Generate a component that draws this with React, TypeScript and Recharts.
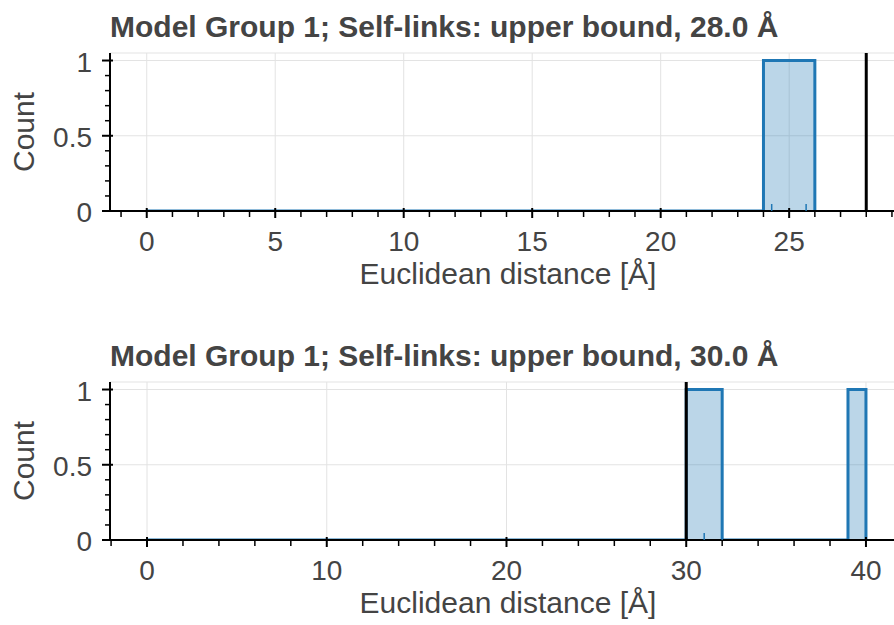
import React from 'react';
import { ComposedChart, Area, Scatter, XAxis, YAxis, CartesianGrid, ReferenceLine, Label } from 'recharts';

const FONT = '"Liberation Sans", Arial, Helvetica, sans-serif';
const TEXT = '#444444';
const BLUE = '#1f77b4';

// panel 1: upper bound 28.0 Å
const topTitle = 'Model Group 1; Self-links: upper bound, 28.0 Å';
const topBinStart = [0, 24];
const topBinEnd = [24, 26];
const topCounts = [0, 1];
const topRug = [24.32, 25.66];
const topBound = 28;
const topXDomain = [-1.43, 29.08];
const topXMajor = [0, 5, 10, 15, 20, 25];
const topXTicks = [-1, 0, 1, 2, 3, 4, 5, 6, 7, 8, 9, 10, 11, 12, 13, 14, 15, 16, 17, 18, 19, 20, 21, 22, 23, 24, 25, 26, 27, 28, 29];

// panel 2: upper bound 30.0 Å
const bottomTitle = 'Model Group 1; Self-links: upper bound, 30.0 Å';
const bottomBinStart = [0, 30, 32, 39];
const bottomBinEnd = [30, 32, 39, 40];
const bottomCounts = [0, 1, 0, 1];
const bottomRug = [31.0, 32.0, 40.0];
const bottomBound = 30;
const bottomXDomain = [-2.06, 41.56];
const bottomXMajor = [0, 10, 20, 30, 40];
const bottomXTicks = [-2, 0, 2, 4, 6, 8, 10, 12, 14, 16, 18, 20, 22, 24, 26, 28, 30, 32, 34, 36, 38, 40];

// shared y axis
const yDomain = [0, 1.05];
const yMajor = [0, 0.5, 1];
const yTicks = [0, 0.1, 0.2, 0.3, 0.4, 0.5, 0.6, 0.7, 0.8, 0.9, 1];
const xLabel = 'Euclidean distance [Å]';
const yLabel = 'Count';

const stepPoints = (starts: number[], ends: number[], counts: number[]) => {
  const pts: { x: number; y: number }[] = [];
  starts.forEach((s, i) => {
    pts.push({ x: s, y: counts[i] });
    pts.push({ x: ends[i], y: counts[i] });
  });
  pts.push({ x: ends[ends.length - 1], y: 0 });
  return pts;
};

const XTick = (props: any) => {
  const { x, y, payload, majors } = props;
  const v = payload.value;
  const major = majors.includes(v);
  return (
    <g>
      <line x1={x} x2={x} y1={major ? y - 3 : y} y2={y + (major ? 7 : 6)} stroke="#000" strokeWidth={major ? 2 : 1.5} />
      {major && (
        <text x={x} y={y + 40} textAnchor="middle" fill={TEXT} fontSize={28} fontFamily={FONT}>
          {v}
        </text>
      )}
    </g>
  );
};

const YTick = (props: any) => {
  const { x, y, payload } = props;
  const v = payload.value;
  const major = yMajor.includes(v);
  return (
    <g>
      <line x1={x - (major ? 8 : 5)} x2={major ? x + 3 : x} y1={y} y2={y} stroke="#000" strokeWidth={major ? 2 : 1.5} />
      {major && (
        <text x={x - 18} y={y + 11} textAnchor="end" fill={TEXT} fontSize={28} fontFamily={FONT}>
          {String(v)}
        </text>
      )}
    </g>
  );
};

interface PanelProps {
  title: string;
  starts: number[];
  ends: number[];
  counts: number[];
  rug: number[];
  bound: number;
  xDomain: number[];
  xMajor: number[];
  xTicks: number[];
  height: number;
  top: number;
}

const Panel: React.FC<PanelProps> = ({ title, starts, ends, counts, rug, bound, xDomain, xMajor, xTicks, height, top }) => {
  const hist = stepPoints(starts, ends, counts);
  const rugData = rug.map((r) => ({ x: r, y: 0 }));
  const plotH = 158;
  const marginTop = 53;
  return (
    <div style={{ position: 'absolute', left: 0, top, width: 894, height }}>
      <div
        style={{
          position: 'absolute',
          left: 110,
          top: 12,
          fontFamily: FONT,
          fontWeight: 'bold',
          fontSize: 30,
          lineHeight: '30px',
          color: TEXT,
          whiteSpace: 'nowrap',
        }}
      >
        {title}
      </div>
      <ComposedChart width={894} height={height} margin={{ top: marginTop, right: 0, bottom: 0, left: 0 }}>
        <CartesianGrid
          stroke="#e3e3e3"
          strokeWidth={1}
          horizontalValues={yMajor}
          verticalValues={xMajor}
          syncWithTicks={false}
        />
        <XAxis
          type="number"
          dataKey="x"
          domain={xDomain}
          allowDataOverflow
          ticks={xTicks}
          interval={0}
          tickSize={0}
          tickMargin={0}
          tickLine={false}
          axisLine={{ stroke: '#000', strokeWidth: 2 }}
          tick={(p: any) => <XTick {...p} majors={xMajor} />}
          height={height - marginTop - plotH}
        >
          <Label
            content={(p: any) => {
              const vb = p.viewBox;
              return (
                <text x={vb.x + vb.width / 2 + 6} y={vb.y + 73} textAnchor="middle" fill={TEXT} fontSize={30} fontFamily={FONT}>
                  {xLabel}
                </text>
              );
            }}
          />
        </XAxis>
        <YAxis
          type="number"
          domain={yDomain}
          allowDataOverflow
          ticks={yTicks}
          interval={0}
          tickSize={0}
          tickMargin={0}
          tickLine={false}
          width={110}
          axisLine={{ stroke: '#000', strokeWidth: 2 }}
          tick={(p: any) => <YTick {...p} />}
        >
          <Label
            content={(p: any) => {
              const vb = p.viewBox;
              const cy = vb.y + vb.height / 2;
              return (
                <text x={34} y={cy} transform={`rotate(-90, 34, ${cy})`} textAnchor="middle" fill={TEXT} fontSize={30} fontFamily={FONT}>
                  {yLabel}
                </text>
              );
            }}
          />
        </YAxis>
        <ReferenceLine y={yDomain[1]} stroke="#e3e3e3" strokeWidth={1} />
        <Area
          data={hist}
          dataKey="y"
          type="linear"
          stroke={BLUE}
          strokeWidth={3}
          fill={BLUE}
          fillOpacity={0.3}
          isAnimationActive={false}
          dot={false}
          activeDot={false}
        />
        <Scatter
          data={rugData}
          dataKey="y"
          isAnimationActive={false}
          shape={(p: any) => <line x1={p.cx} x2={p.cx} y1={p.cy} y2={p.cy - 7} stroke={BLUE} strokeWidth={1.5} />}
        />
        <ReferenceLine x={bound} stroke="#000" strokeWidth={3} />
      </ComposedChart>
    </div>
  );
};

export default function App() {
  return (
    <div style={{ position: 'absolute', left: 0, top: 0, width: 894, height: 625, background: '#fff' }}>
      <Panel
        title={topTitle}
        starts={topBinStart}
        ends={topBinEnd}
        counts={topCounts}
        rug={topRug}
        bound={topBound}
        xDomain={topXDomain}
        xMajor={topXMajor}
        xTicks={topXTicks}
        height={312}
        top={0}
      />
      <Panel
        title={bottomTitle}
        starts={bottomBinStart}
        ends={bottomBinEnd}
        counts={bottomCounts}
        rug={bottomRug}
        bound={bottomBound}
        xDomain={bottomXDomain}
        xMajor={bottomXMajor}
        xTicks={bottomXTicks}
        height={296}
        top={329}
      />
    </div>
  );
}
